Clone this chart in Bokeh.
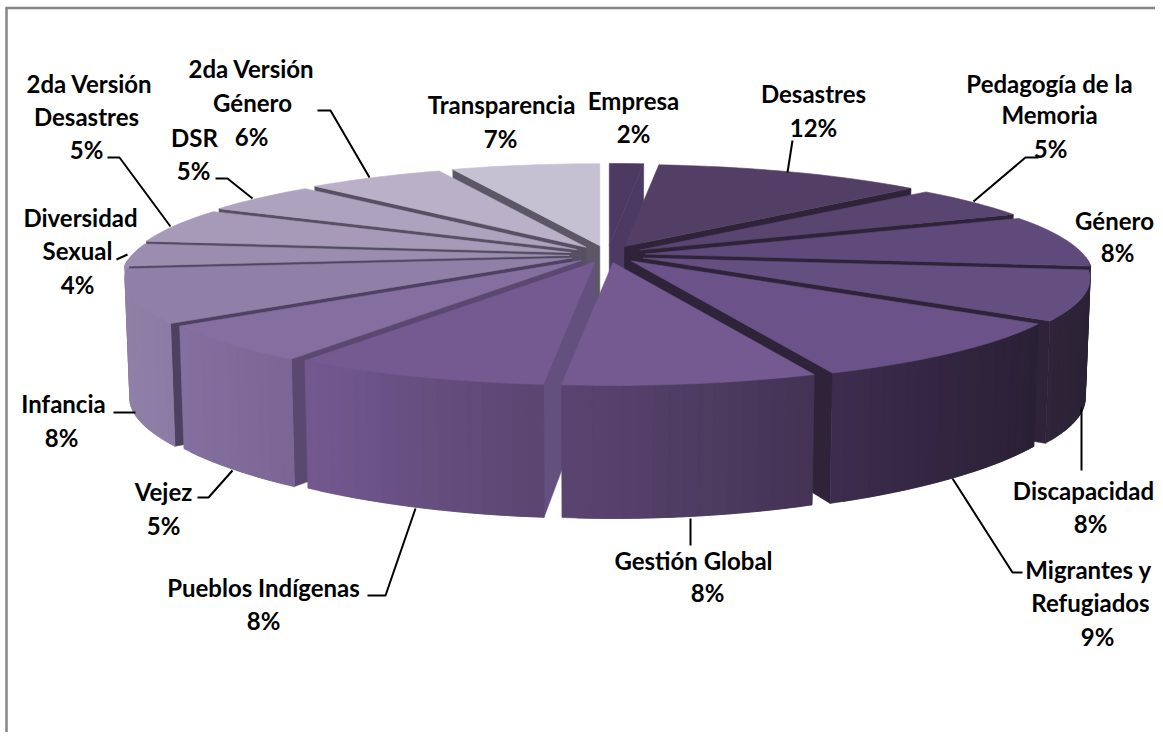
import numpy as np
from bokeh.plotting import figure
from bokeh.models import Range1d, ColumnDataSource
from bokeh.core.properties import value
from bokeh.embed import file_html
from bokeh.resources import INLINE

# Slices, clockwise from the top; shares as drawn in the picture
categories = ["Empresa", "Desastres", "Pedagogía de la Memoria", "Género", "Discapacidad",
              "Migrantes y Refugiados", "Gestión Global", "Pueblos Indígenas", "Vejez", "Infancia",
              "Diversidad Sexual", "2da Versión Desastres", "DSR", "2da Versión Género", "Transparencia"]
shares = [1.5, 11.8, 5.3, 8.3, 7.7, 9.3, 7.6, 7.8, 5.7, 8.3, 3.6, 5.6, 5.0, 6.0, 6.5]

top_colors = ["#4D3A62", "#533F66", "#594570", "#604A7B", "#644F80", "#6B5389", "#745A91", "#745A91",
              "#846FA0", "#9080A8", "#9A8DB0", "#A69AB8", "#ADA3BF", "#BAB1C8", "#C6C1D2"]
cut_colors = ["#4D3A62", "#2E2339", "#2E2339", "#2E2339", "#2E2339", "#2E2339", "#64507F", "#64507F",
              "#5A4870", "#4D4060", "#4F4860", "#534D60", "#575063", "#575063", "#5C5766"]
wall_left = ["#4D3A62", "#533F66", "#594570", "#2F2439", "#2F2439", "#3E2C4E", "#5A4570", "#735890",
             "#8470A0", "#9080A8", "#9A8DB0", "#A69AB8", "#ADA3BF", "#BAB1C8", "#C6C1D2"]
wall_right = ["#4D3A62", "#533F66", "#594570", "#2F2439", "#2C2236", "#2A2035", "#443355", "#5A4570",
              "#7B6595", "#8C7BA5", "#9A8DB0", "#A69AB8", "#ADA3BF", "#BAB1C8", "#C6C1D2"]

# text, centre x, centre y
label_texts = ["Empresa", "2%", "Desastres", "12%", "Pedagogía de la", "Memoria", "5%", "Género", "8%",
               "Discapacidad", "8%", "Migrantes y", "Refugiados", "9%", "Gestión Global", "8%",
               "Pueblos Indígenas", "8%", "Vejez", "5%", "Infancia", "8%", "Diversidad", "Sexual", "4%",
               "2da Versión", "Desastres", "5%", "DSR", "5%", "2da Versión", "Género", "6%",
               "Transparencia", "7%"]
label_x = [633, 633, 813, 813, 1049, 1049, 1050, 1114, 1117, 1083, 1090, 1088, 1090, 1097, 693, 707,
           263, 263, 163, 163, 63, 61, 80, 77, 77, 89, 86, 86, 194, 193, 251, 252, 251, 501, 500]
label_y = [100, 133, 93, 127, 83, 114, 148, 220, 252, 490, 523, 569, 602, 636, 560, 592,
           587, 620, 491, 525, 403, 437, 217, 250, 284, 83, 116, 149, 137, 170, 68, 102, 136, 104, 138]

leader_x = [[792, 787], [1038, 1025, 973], [1081, 1081], [1022, 1012, 952], [690, 690], [367, 385, 415],
            [197, 208, 232], [113, 135], [116, 127], [107, 119, 170], [215, 227, 252], [317, 330, 369]]
leader_y = [[140, 172], [157, 157, 201], [407, 470], [572, 572, 478], [518, 545], [595, 595, 508],
            [497, 497, 470], [412, 412], [259, 254], [157, 157, 226], [178, 178, 198], [110, 110, 177]]

W, H = 1155, 732
CX, CY, RX, RY, K = 607.0, 255.0, 438.0, 98.4, 0.2
EX, EY_FAR, EY_NEAR = 38.0, 10.0, 7.0
DEPTH, DEPTH_VAR, FLOOR_SHRINK = 120.0, 13.0, 0.99

p = figure(width=W, height=H, output_backend="svg", toolbar_location=None,
           x_range=Range1d(0, W), y_range=Range1d(H, 0),
           min_border=0, outline_line_color=None, background_fill_color="white",
           border_fill_color="white")
p.axis.visible = False
p.grid.visible = False


def hex2rgb(c):
    return np.array([int(c[i:i + 2], 16) for i in (1, 3, 5)], dtype=float)


def mix(a, b, t):
    m = hex2rgb(a) * (1 - t) + hex2rgb(b) * t
    return "#%02x%02x%02x" % tuple(int(round(v)) for v in m)


edges = np.radians(np.concatenate([[0], np.cumsum(shares)]) * 3.6)
order = sorted(range(len(shares)), key=lambda i: -np.cos((edges[i] + edges[i + 1]) / 2))

xs, ys, fills, lw = [], [], [], []


def add(x, y, c, w=0.6):
    xs.append(list(x)); ys.append(list(y)); fills.append(c); lw.append(w)


for i in order:
    a0, a1 = edges[i], edges[i + 1]
    m = (a0 + a1) / 2
    ax = CX + EX * np.sin(m)
    cm = np.cos(m)
    ay = CY - (EY_FAR if cm > 0 else EY_NEAR) * cm
    th = np.linspace(a0, a1, max(3, int(np.degrees(a1 - a0) / 1.5)))
    den = 1 + K * np.cos(th)
    rx = ax + RX * np.sin(th) / den
    ry = ay - RY * np.cos(th) / den
    d = DEPTH + DEPTH_VAR * np.clip(-np.cos(th), 0, 1) ** 3
    bx = CX + (rx - CX) * FLOOR_SHRINK   # the floor of the pie is a little narrower
    tx = np.concatenate([[ax], rx]); ty = np.concatenate([[ay], ry])
    cx, cy = tx.mean(), ty.mean()
    # radial cut faces that look towards the viewer
    for j in (0, -1):
        ex = rx[j] - ax
        if abs(ex) < 1e-6:
            continue
        if cy < ay + (ry[j] - ay) * (cx - ax) / ex:
            dd = d[j] if cm < 0 or np.cos(th[j]) > 0 else 30.0
            ad = DEPTH if dd > 30 else 30.0
            add([ax, rx[j], bx[j], ax], [ay, ry[j], ry[j] + dd, ay + ad], cut_colors[i])
    # outer wall, shaded across the slice; each strip overlaps the next to hide seams
    vis = np.where(np.cos(th) < -0.02)[0]
    if len(vis) > 1:
        lo, hi = rx[vis].min(), rx[vis].max()
        seq = vis if rx[vis[0]] < rx[vis[-1]] else vis[::-1]
        for n in range(len(seq) - 1):
            u, v = seq[n], seq[min(n + 2, len(seq) - 1)]
            w_mid = seq[n + 1]
            t = ((rx[u] + rx[w_mid]) / 2 - lo) / max(hi - lo, 1)
            add([rx[u], rx[w_mid], rx[v], bx[v], bx[w_mid], bx[u]],
                [ry[u], ry[w_mid], ry[v], ry[v] + d[v], ry[w_mid] + d[w_mid], ry[u] + d[u]],
                mix(wall_left[i], wall_right[i], t), 0.6)
    # top face
    add(tx, ty, top_colors[i])

src = ColumnDataSource(dict(xs=xs, ys=ys, fill=fills, lw=lw))
p.patches("xs", "ys", source=src, fill_color="fill", line_color="fill", line_width="lw")

# chart frame: top and left edges only, as in the picture
p.multi_line([[6, 6], [5, W]], [[7, H], [7.5, 7.5]], line_color="#868686", line_width=2.5)

p.multi_line(leader_x, leader_y, line_color="black", line_width=2)

p.text(label_x, label_y, text=label_texts, text_font=value("Lato"), text_font_style="bold",
       text_font_size="24px", text_color="black", text_align="center", text_baseline="middle")

open("out.html", "w").write(file_html(p, INLINE))
